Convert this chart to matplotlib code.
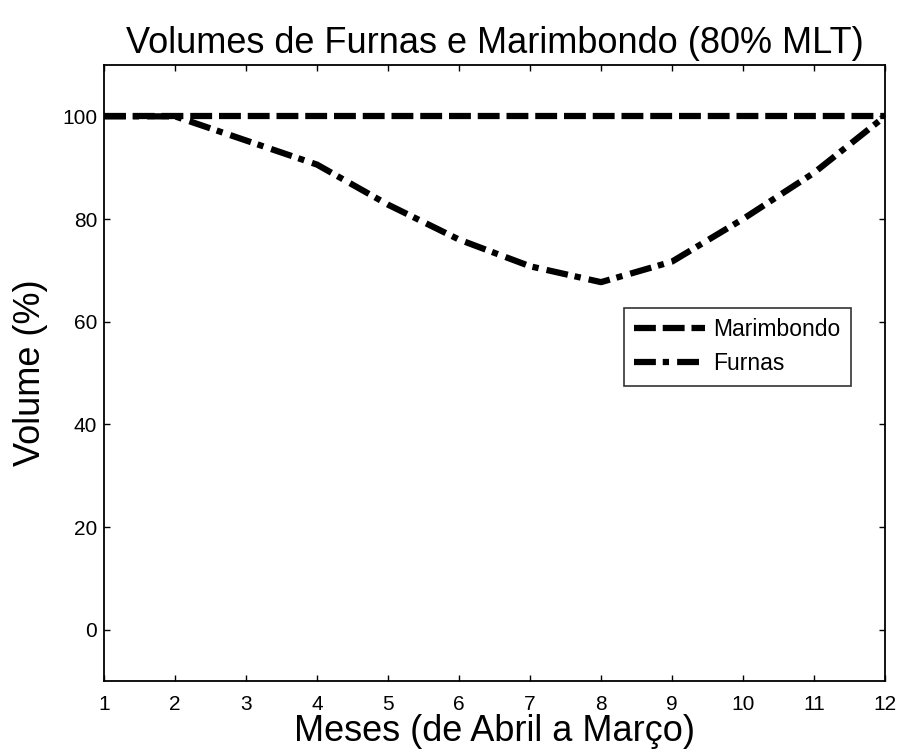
import matplotlib

matplotlib.use("Agg")
import matplotlib.pyplot as plt

plt.rcParams["font.family"] = ["Liberation Sans", "DejaVu Sans"]

# Monthly reservoir volumes, April (1) to March (12), in % of capacity
meses = list(range(1, 13))
marimbondo = [100, 100, 100, 100, 100, 100, 100, 100, 100, 100, 100, 100]
furnas = [100, 100, 95.3, 90.6, 82.8, 76.0, 70.8, 67.7, 71.7, 80.0, 89.0, 100]

fig = plt.figure(figsize=(8.99, 7.56), dpi=100)
ax = fig.add_axes([0.1157, 0.0992, 0.8687, 0.8148])

ax.plot(meses, marimbondo, color="black", linewidth=4.5,
        linestyle=(0, (3.5, 1.1)), label="Marimbondo")
ax.plot(meses, furnas, color="black", linewidth=4.5,
        linestyle=(0, (3.5, 1.1, 1.0, 1.3)), label="Furnas")

ax.set_xlim(1, 12)
ax.set_ylim(-10, 110)
ax.set_xticks(meses)
ax.set_yticks([0, 20, 40, 60, 80, 100])
ax.tick_params(axis="both", direction="in", top=True, right=True,
               length=4, width=1, labelsize=15)
ax.tick_params(axis="x", pad=10)
ax.tick_params(axis="y", pad=5)
for side in ax.spines.values():
    side.set_linewidth(1.3)

ax.set_title("Volumes de Furnas e Marimbondo (80% MLT)", fontsize=26, pad=9)
ax.set_xlabel("Meses (de Abril a Março)", fontsize=26, labelpad=0)
ax.set_ylabel("Volume (%)", fontsize=26, labelpad=10)

leg = ax.legend(loc="upper left", bbox_to_anchor=(0.666, 0.6055),
                fontsize=16.5, frameon=True, fancybox=False,
                handlelength=3.1, handletextpad=0.35, borderpad=0.45,
                labelspacing=0.48, borderaxespad=0)
leg.get_frame().set_edgecolor("black")
leg.get_frame().set_linewidth(1.2)

fig.savefig("out.png", dpi=100)
